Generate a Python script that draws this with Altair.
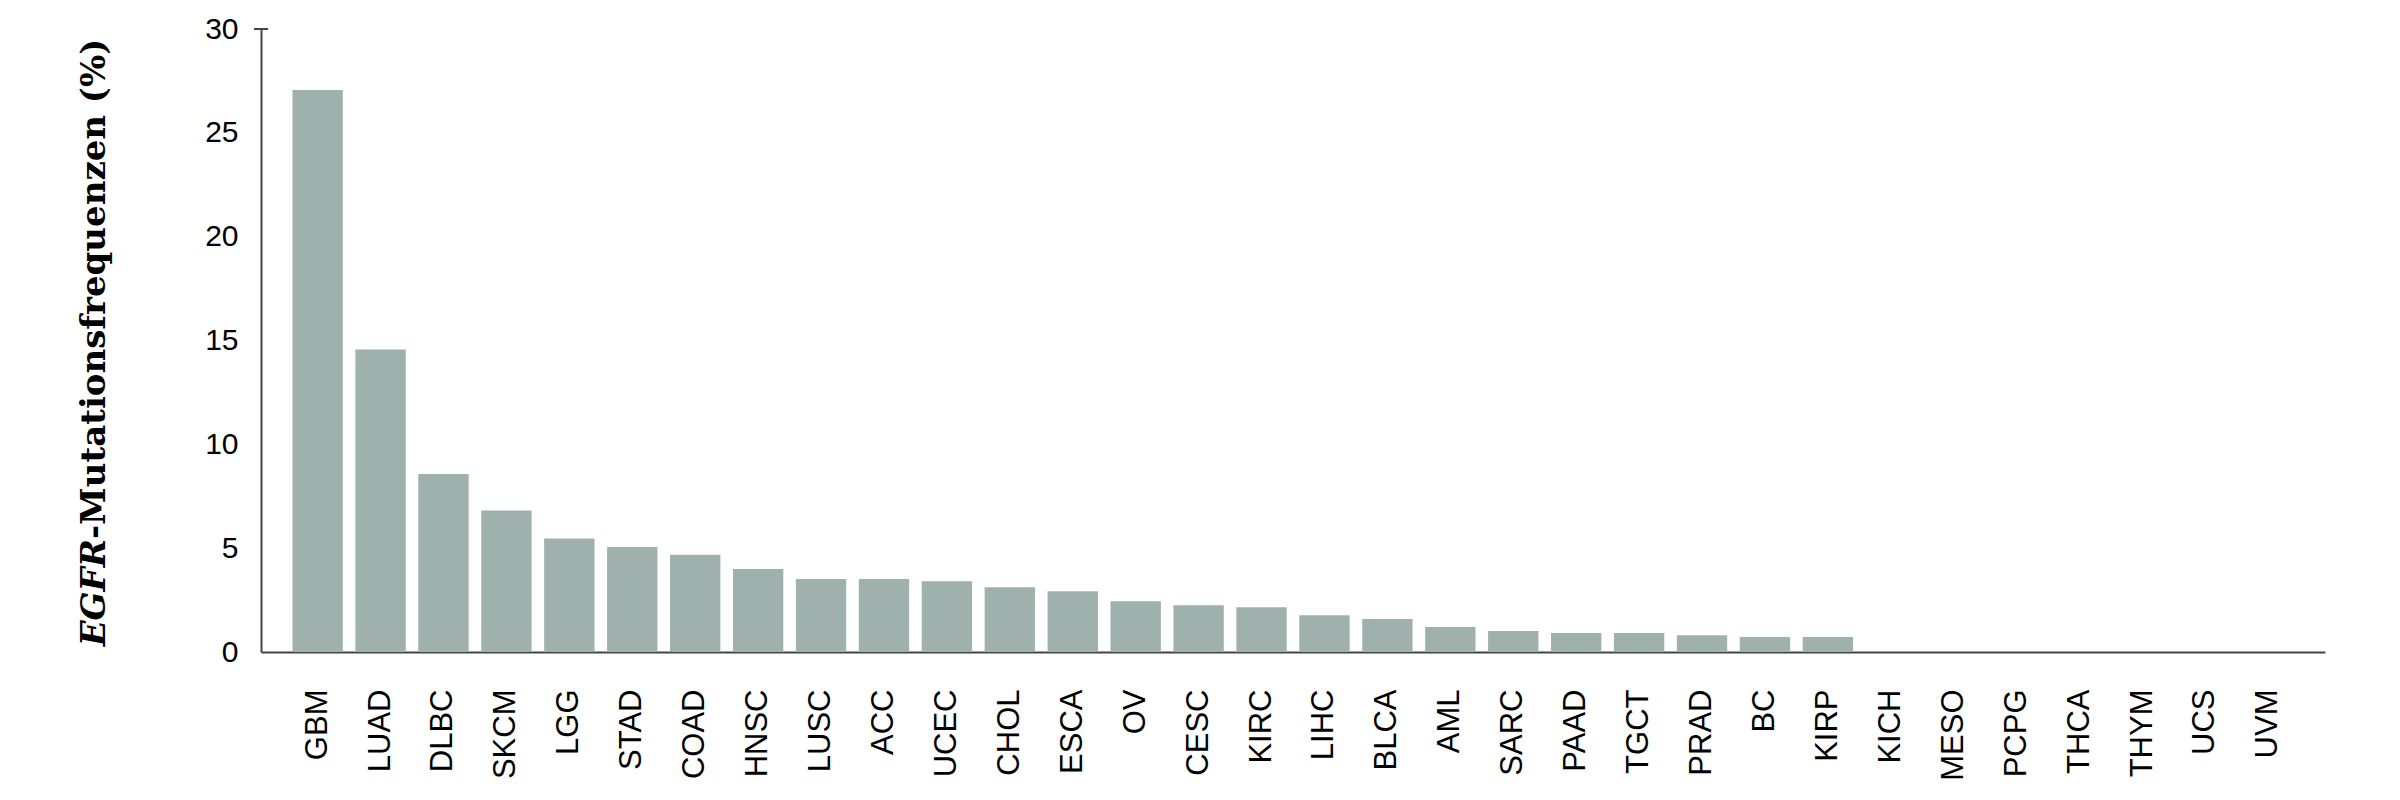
import altair as alt
import pandas as pd

categories = ["GBM", "LUAD", "DLBC", "SKCM", "LGG", "STAD", "COAD", "HNSC", "LUSC", "ACC",
              "UCEC", "CHOL", "ESCA", "OV", "CESC", "KIRC", "LIHC", "BLCA", "AML", "SARC",
              "PAAD", "TGCT", "PRAD", "BC", "KIRP", "KICH", "MESO", "PCPG", "THCA", "THYM",
              "UCS", "UVM"]
values = [27.06, 14.57, 8.57, 6.81, 5.46, 5.06, 4.68, 4.0, 3.51, 3.51,
          3.41, 3.12, 2.93, 2.44, 2.25, 2.15, 1.77, 1.59, 1.2, 1.01,
          0.91, 0.91, 0.81, 0.72, 0.72, 0, 0, 0, 0, 0,
          0, 0]
y_ticks = [0, 5, 10, 15, 20, 25, 30]

df = pd.DataFrame({"cat": categories, "val": values})
one = pd.DataFrame({"k": [0]})

AXIS_COLOR = "#444444"

bars = alt.Chart(df).mark_bar(color="#9fb1ac").encode(
    x=alt.X("cat:N", sort=categories,
            scale=alt.Scale(paddingInner=0.2, paddingOuter=0.5),
            axis=alt.Axis(title=None, labelAngle=270, labelAlign="right", labelBaseline="middle",
                          labelFont="Liberation Sans", labelFontSize=31, labelColor="#000000",
                          labelPadding=37, ticks=False, domainColor=AXIS_COLOR, domainWidth=2,
                          grid=False)),
    y=alt.Y("val:Q", scale=alt.Scale(domain=[0, 30], nice=False),
            axis=alt.Axis(title=None, values=y_ticks, labelFont="Liberation Sans",
                          labelFontSize=30, labelColor="#000000", labelPadding=23,
                          ticks=False, domainColor=AXIS_COLOR, domainWidth=2, grid=False)),
)

top_tick = alt.Chart(one).mark_rule(color=AXIS_COLOR, strokeWidth=2).encode(
    y=alt.datum(30), x=alt.value(-7), x2=alt.value(7)
)

title_a = alt.Chart(one).mark_text(
    text="EGFR", font="DejaVu Serif", fontSize=34, fontWeight="bold", fontStyle="italic",
    angle=270, align="right", baseline="middle", color="#000000"
).encode(x=alt.value(-166), y=alt.value(510))

title_b = alt.Chart(one).mark_text(
    text="-Mutationsfrequenzen (%)", font="DejaVu Serif", fontSize=34, fontWeight="bold",
    angle=270, align="left", baseline="middle", color="#000000"
).encode(x=alt.value(-166), y=alt.value(510))

chart = alt.layer(bars, top_tick, title_a, title_b).properties(
    width=2064, height=623,
    autosize=alt.AutoSizeParams(type="none"),
    padding={"left": 253, "top": 21, "right": 60, "bottom": 140},
    background="white",
).configure_view(stroke=None, strokeWidth=0)

chart.save("out.html", embed_options={"renderer": "svg", "actions": False})
